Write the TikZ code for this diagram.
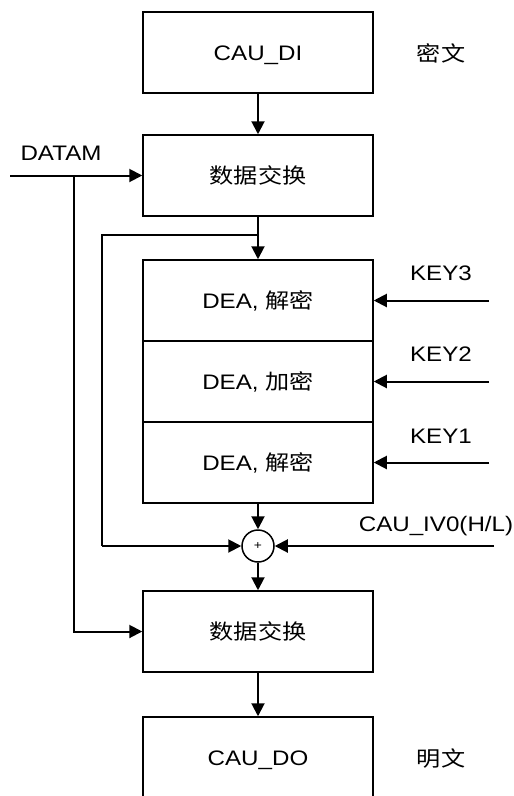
\documentclass[tikz,border=0pt]{standalone}
\usepackage{fontspec}
\setmainfont{Liberation Sans}[FakeStretch=1.15]
\newfontfamily\cjk{Noto Sans CJK SC}[FakeStretch=1.15]
\usetikzlibrary{arrows.meta}
\begin{document}
\begin{tikzpicture}[x=1pt,y=-1pt,
  box/.style={draw, line width=1.5pt, minimum width=230pt, minimum height=81pt, inner sep=0pt, text height=15pt, text depth=0pt, font=\fontsize{21}{24}\selectfont},
  lbl/.style={font=\fontsize{21}{24}\selectfont, inner sep=0pt, text height=15pt, text depth=0pt},
  conn/.style={line width=2pt, -{Triangle[length=13pt,width=13pt]}},
  wire/.style={line width=2pt}]
\useasboundingbox (0,0) rectangle (514,796);
\clip (0,0) rectangle (514,796);
\node[box] (di) at (258,52.5) {CAU\_DI};
\node[box] (sw1) at (258,175.5) {\cjk 数据交换};
\node[box] (dea1) at (258,300.5) {DEA, {\cjk 解密}};
\node[box] (dea2) at (258,381.5) {DEA, {\cjk 加密}};
\node[box] (dea3) at (258,462.5) {DEA, {\cjk 解密}};
\node[draw, circle, line width=1.5pt, minimum size=32pt, inner sep=0pt, font=\fontsize{12}{12}\selectfont] (plus) at (258,546) {+};
\node[box] (sw2) at (258,631.5) {\cjk 数据交换};
\node[box] (do) at (258,757.5) {CAU\_DO};

\node[lbl] (mw) at (441,54) {\cjk 密文};
\node[lbl] (datam) at (61,153) {DATAM};
\node[lbl] (k3l) at (441,273) {KEY3};
\node[lbl] (k2l) at (441,354) {KEY2};
\node[lbl] (k1l) at (441,436) {KEY1};
\node[lbl] (ivl) at (436,524) {CAU\_IV0(H/L)};
\node[lbl] (mingw) at (441,759) {\cjk 明文};

\coordinate (din) at (10,175.5);
\coordinate (dj) at (74,175.5);
\coordinate (j1) at (258,235);
\coordinate (fb1) at (102,235);
\coordinate (fb2) at (102,546);
\coordinate (k3) at (489,300.5);
\coordinate (k2) at (489,381.5);
\coordinate (k1) at (489,462.5);
\coordinate (iv) at (494,546);

\draw[conn] (di) -- (sw1);
\draw[conn] (din) -- (sw1.west);
\draw[conn] (dj) |- (sw2.west);
\draw[conn] (sw1) -- (dea1);
\draw[wire] (j1) -- (fb1) -- (fb2);
\draw[conn] (fb2) -- (plus.west);
\draw[conn] (k3) -- (dea1.east);
\draw[conn] (k2) -- (dea2.east);
\draw[conn] (k1) -- (dea3.east);
\draw[conn] (iv) -- (plus.east);
\draw[conn] (dea3) -- (plus);
\draw[conn] (plus) -- (sw2);
\draw[conn] (sw2) -- (do);
\end{tikzpicture}
\end{document}
